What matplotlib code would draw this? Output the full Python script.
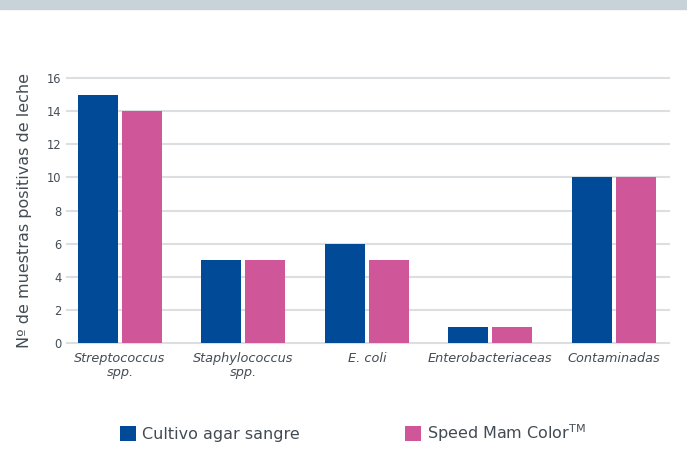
import matplotlib.pyplot as plt
import numpy as np
from matplotlib.patches import Rectangle

categories = ["Streptococcus\nspp.", "Staphylococcus\nspp.", "E. coli",
              "Enterobacteriaceas", "Contaminadas"]
cultivo = [15, 5, 6, 1, 10]
speed = [14, 5, 5, 1, 10]
yticks = [0, 2, 4, 6, 8, 10, 12, 14, 16]

blue = "#004a97"
pink = "#cf5699"
textcol = "#434c55"
gridcol = "#dcdfe1"

fig = plt.figure(figsize=(6.87, 4.58), dpi=100, facecolor="white")
# grey strip on top
fig.patches.append(Rectangle((0, 1 - 9 / 458), 1, 9 / 458, transform=fig.transFigure,
                             color="#c8d3d9", zorder=0))

ax = fig.add_axes([67 / 687, 1 - 343.3 / 458, 602 / 687, (343.3 - 78) / 458])
x = np.arange(len(categories))
w = 0.324
off = 0.178
b1 = ax.bar(x - off, cultivo, width=w, color=blue, zorder=3)
b2 = ax.bar(x + off, speed, width=w, color=pink, zorder=3)

ax.set_xlim(-0.43, 4.449)
ax.set_ylim(0, 16)
for t in yticks:
    ax.axhline(t, color=gridcol, lw=1.5, zorder=1, clip_on=False)

for s in ax.spines.values():
    s.set_visible(False)
ax.set_yticks(yticks)
ax.tick_params(axis="y", length=0, pad=4, labelsize=8.3, labelcolor=textcol)
ax.set_xticks(x)
ax.set_xticklabels(categories, fontsize=9.3, style="italic", color=textcol,
                   linespacing=1.05)
ax.tick_params(axis="x", length=0, pad=6.5)
ax.set_ylabel("Nº de muestras positivas de leche", fontsize=11.5, color=textcol,
              labelpad=11)

fig.legend([b1, b2], ["Cultivo agar sangre", r"Speed Mam Color$^{\mathrm{TM}}$"],
           loc="center left", bbox_to_anchor=(105.6 / 687, 1 - 433 / 458), ncol=2,
           frameon=False, fontsize=11.5, labelcolor=textcol, handlelength=1.0,
           handleheight=1.0, handletextpad=0.375, columnspacing=6.6)

fig.savefig("out.png", dpi=100, facecolor="white")
